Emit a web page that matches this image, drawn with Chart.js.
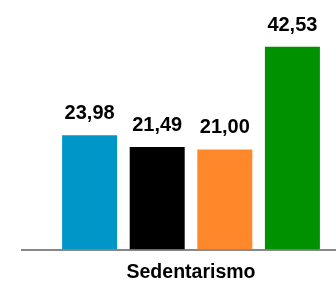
<!DOCTYPE html>
<html lang="pt">
<head>
  <meta charset="UTF-8">
  <title>Sedentarismo</title>
  <script src="https://cdn.jsdelivr.net/npm/chart.js"></script>
  <style>
    body {
      margin: 0;
      padding: 0;
      background: #fff;
      overflow: hidden;
    }
    /* Zeichenfläche etwas größer als das Fenster, die Achse läuft rechts hinaus */
    .chart-box {
      width: 360px;
      height: 295px;
    }
  </style>
</head>
<body>
  <div class="chart-box">
    <canvas id="sedChart"></canvas>
  </div>

  <script>
    // Daten
    const categories = ["Sedentarismo"];
    const seriesNames = ["Série 1", "Série 2", "Série 3", "Série 4"];
    const seriesValues = [23.98, 21.49, 21.00, 42.53];
    const seriesColors = ["#0096C8", "#000000", "#FF882B", "#009100"];
    const yMax = 50;

    // Werte über den Balken (Dezimalkomma)
    const valueLabels = {
      id: 'valueLabels',
      afterDatasetsDraw(chart) {
        const ctx = chart.ctx;
        ctx.save();
        ctx.font = 'bold 20px "Liberation Sans", Arial, sans-serif';
        ctx.fillStyle = '#000';
        ctx.textAlign = 'center';
        ctx.textBaseline = 'alphabetic';
        chart.data.datasets.forEach((ds, i) => {
          const bar = chart.getDatasetMeta(i).data[0];
          const txt = ds.data[0].toFixed(2).replace('.', ',');
          ctx.fillText(txt, bar.x, bar.y - 16);
        });
        ctx.restore();
      }
    };

    const ctx = document.getElementById('sedChart').getContext('2d');
    const chart = new Chart(ctx, {
      type: 'bar',
      data: {
        labels: categories,
        datasets: seriesNames.map((name, i) => ({
          label: name,
          data: [seriesValues[i]],
          backgroundColor: seriesColors[i],
          borderWidth: 0,
          categoryPercentage: 0.8,
          barPercentage: 0.8136
        }))
      },
      options: {
        responsive: true,
        maintainAspectRatio: false,
        animation: false,
        layout: {
          padding: { left: 22, top: 11, right: 0, bottom: 0 }
        },
        scales: {
          x: {
            grid: { display: true, drawOnChartArea: false, drawTicks: false },
            border: { display: true, color: '#888888', width: 2 },
            ticks: {
              color: '#000',
              padding: 11,
              font: { family: '"Liberation Sans", Arial, sans-serif', size: 19.5, weight: 'bold' }
            }
          },
          y: {
            display: false,
            min: 0,
            max: yMax
          }
        },
        plugins: {
          legend: { display: false },
          tooltip: { enabled: false }
        }
      },
      plugins: [valueLabels]
    });
  </script>
</body>
</html>
